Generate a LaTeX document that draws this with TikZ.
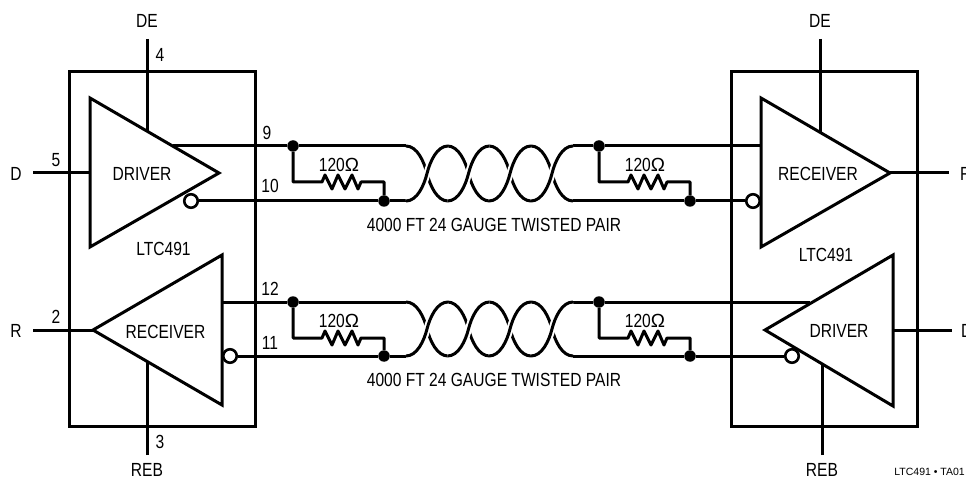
\documentclass[tikz,border=0pt]{standalone}
\usepackage{fontspec}
\setmainfont[FakeStretch=0.82]{Liberation Sans}
\newfontfamily\tagfont{Liberation Sans}
\usetikzlibrary{calc}
\tikzset{
  wire/.style={line width=3pt},
  lbl/.style={inner sep=0pt, font=\fontsize{19}{19}\selectfont},
  dot/.style={circle, fill=black, inner sep=0pt, minimum size=11.5pt},
  bubble/.style={circle, draw, line width=2.6pt, fill=white, inner sep=0pt, minimum size=13.5pt},
  halo/.style={white, line width=7pt}
}
\newcommand{\twist}[3]{(#1-21,#3) .. controls (#1-10,#3) and (#1-3,{(#2+#3)/2+0.22*(#3-#2)}) .. (#1,{(#2+#3)/2}) .. controls (#1+3,{(#2+#3)/2-0.22*(#3-#2)}) and (#1+10,#2) .. (#1+21,#2)}
\begin{document}
\begin{tikzpicture}[x=1pt,y=-1pt]
\useasboundingbox (0,0) rectangle (966,478);

% Left package
\draw[wire] (69,72) rectangle (255,426);
\draw[wire] (90,98) coordinate (dla) -- (219,173) coordinate (dlt) -- (90,247) coordinate (dlb) -- cycle;
\draw[wire] (222,255) coordinate (rla) -- (93,330) coordinate (rlt) -- (222,405) coordinate (rlb) -- cycle;

% Right package
\draw[wire] (731,72) rectangle (917,426);
\draw[wire] (761,98) coordinate (rra) -- (890,173) coordinate (rrt) -- (761,247) coordinate (rrb) -- cycle;
\draw[wire] (893,255) coordinate (dra) -- (765,330) coordinate (drt) -- (893,406) coordinate (drb) -- cycle;

% Free ends of the pins
\coordinate (deltop) at (147,39);
\coordinate (delend) at (147,131);
\coordinate (detop) at (820,39);
\coordinate (deend) at (820,132);
\coordinate (reblow) at (147,455);
\coordinate (reblend) at (147,361);
\coordinate (rebrlow) at (822,455);
\coordinate (rebrend) at (822,364);
\coordinate (dlfree) at (33,173);
\coordinate (rlfree) at (33,330);
\coordinate (rrfree) at (949,173);
\coordinate (drfree) at (952,330);

\draw[wire] (deltop) -- (delend);
\draw[wire] (detop) -- (deend);
\draw[wire] (reblow) -- (reblend);
\draw[wire] (rebrlow) -- (rebrend);
\draw[wire] (dlfree) -- (dlt -| dla);
\draw[wire] (rlfree) -- (rlt);
\draw[wire] (rrt) -- (rrfree);
\draw[wire] (drt -| dra) -- (drfree);

% Both twisted pairs with their terminations
\foreach \r/\ya/\yb/\xs/\bx/\ys/\bl in {t/146/201/173/191/761/753, b/302/356/222/230/810/792}{
  \node[dot] (la\r) at (293,\ya) {};
  \node[dot] (lb\r) at (384,\yb) {};
  \node[dot] (ra\r) at (599,\ya) {};
  \node[dot] (rb\r) at (690,\yb) {};
  \coordinate (sa\r) at (\xs,\ya);
  \coordinate (ea\r) at (\ys,\ya);
  \coordinate (ta\r) at (406,\ya);
  \coordinate (tb\r) at (406,\yb);
  \coordinate (ua\r) at (573,\ya);
  \coordinate (ub\r) at (573,\yb);
  \node[bubble] (bl\r) at (\bx,\yb) {};
  \node[bubble] (br\r) at (\bl,\yb) {};
  \draw[wire] (sa\r) -- (la\r) -- (ta\r);
  \draw[wire] (bl\r) -- (lb\r) -- (tb\r);
  \draw[wire] (ua\r) -- (ra\r) -- (ea\r);
  \draw[wire] (ub\r) -- (rb\r) -- (br\r);
  % the strand that runs under
  \foreach \c in {427,468.5,510,552}{
    \draw[wire] \twist{\c}{\yb}{\ya};
  }
  \foreach \c in {427,468.5,510,552}{
    \draw[halo] \twist{\c}{\ya}{\yb};
    \draw[wire] \twist{\c}{\ya}{\yb};
  }
  % resistors
  \foreach \n/\a/\e in {l/la\r/lb\r, r/ra\r/rb\r}{
    \path (\a) ++(29,36) coordinate (rs\n\r);
    \draw[wire, line join=round] (\a) |- (rs\n\r) -- ++(3,-7) -- ++(7,14) -- ++(6,-14) -- ++(7,14) -- ++(7,-14) -- ++(6,14) -- ++(3,-7) -| (\e);
    \node[lbl] (ohm\n\r) at ($(rs\n\r)+(17,-17)$) {120{\tagfont Ω}};
  }
  \node[lbl] (pair\r) at (494,\yb+24) {4000 FT 24 GAUGE TWISTED PAIR};
}

% Labels of the left package
\node[lbl] (delbl) at (147,21) {DE};
\node[lbl] (pin4) at (160,55) {4};
\node[lbl] (dlbl) at (16,174) {D};
\node[lbl] (pin5) at (56,160) {5};
\node[lbl] (drvl) at (142,174) {DRIVER};
\node[lbl] (pin9) at (267,133) {9};
\node[lbl] (pin10) at (270,186) {10};
\node[lbl] (ltcl) at (163.5,249) {LTC491};
\node[lbl] (rlbl) at (16,331) {R};
\node[lbl] (pin2) at (56,317) {2};
\node[lbl] (rcvl) at (165.5,332) {RECEIVER};
\node[lbl] (pin12) at (270,289) {12};
\node[lbl] (pin11) at (270,343) {11};
\node[lbl] (pin3) at (160,442) {3};
\node[lbl] (reblbl) at (147,470) {REB};

% Labels of the right package
\node[lbl] (derlbl) at (820,21) {DE};
\node[lbl] (rcvr) at (818,174) {RECEIVER};
\node[lbl, anchor=west] (rrlbl) at (960,174) {R};
\node[lbl] (ltcr) at (826,255) {LTC491};
\node[lbl] (drvr) at (839,331) {DRIVER};
\node[lbl, anchor=west] (drlbl) at (961,331) {D};
\node[lbl] (rebrlbl) at (822,470) {REB};
\node[inner sep=0pt, anchor=east, font=\tagfont\fontsize{10.5}{10.5}\selectfont] (tag) at (965,472) {LTC491 • TA01};
\end{tikzpicture}
\end{document}
